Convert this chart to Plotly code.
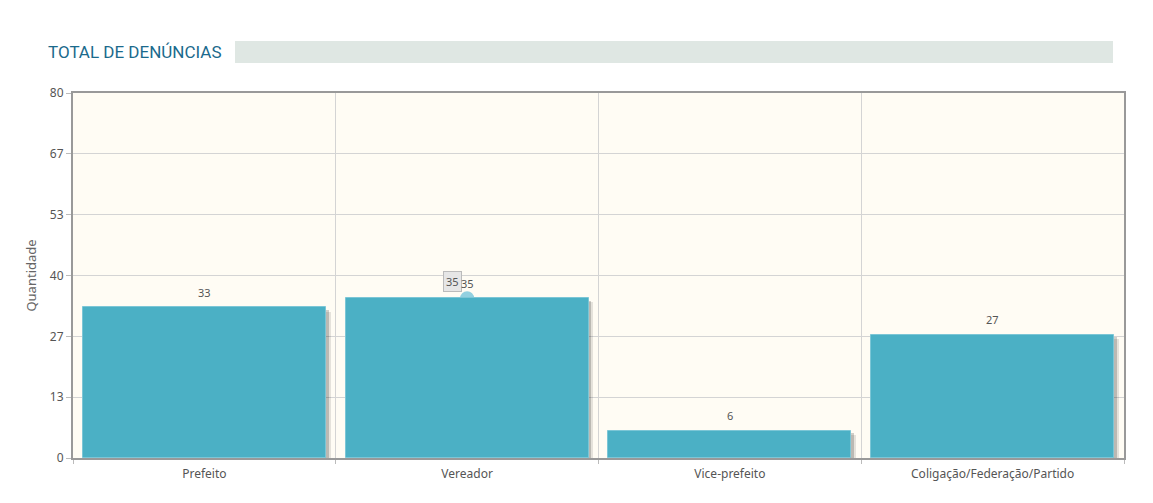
import plotly.graph_objects as go

categories = ["Prefeito", "Vereador", "Vice-prefeito", "Coligação/Federação/Partido"]
values = [33, 35, 6, 27]
tick_vals = [0, 13.33, 26.67, 40, 53.33, 66.67, 80]
tick_text = ["0", "13", "27", "40", "53", "67", "80"]

W, H = 1153, 503
L, T, PW, PH = 65, 85, 1051, 365
R = W - L - PW
B = H - T - PH

BAR_W = 0.924
fig = go.Figure()

# soft shadow (two layers)
for off, dy, col in [(0.018, 0.9, "rgba(0,0,0,0.10)"), (0.011, 0.5, "rgba(0,0,0,0.18)")]:
    fig.add_trace(go.Bar(
        x=categories, y=[v - dy for v in values], width=BAR_W, offset=-BAR_W / 2 + off,
        marker=dict(color=col, line=dict(width=0)),
        hoverinfo="skip", showlegend=False,
    ))
fig.add_trace(go.Bar(
    x=categories, y=values, width=BAR_W, offset=-BAR_W / 2,
    marker=dict(color="#4BB0C5", line=dict(color="#7cc6d6", width=1)),
    showlegend=False,
))

annotations = [
    dict(text="TOTAL DE DENÚNCIAS", xref="paper", yref="paper", x=(46 - 8 - L) / PW, y=(T + PH - (52 - 8)) / PH,
         xanchor="left", yanchor="middle", showarrow=False,
         font=dict(family="Roboto", size=17, color="#1B6A8C")),
    dict(text="35", x=categories[1], y=values[1], xref="x", yref="y", xshift=-15, yshift=17,
         showarrow=False, bgcolor="#e6e6e6", bordercolor="#bbb", borderwidth=1, borderpad=2,
         font=dict(family="Noto Sans", size=11, color="#555")),
]
for c, v in zip(categories, values):
    annotations.append(dict(text=str(v), x=c, y=v, xref="x", yref="y", yshift=15, showarrow=False,
                            xanchor="center", yanchor="middle",
                            font=dict(family="Noto Sans", size=11, color="#555")))

fig.update_layout(
    width=W, height=H,
    margin=dict(l=L, r=R, t=T, b=B),
    paper_bgcolor="white", plot_bgcolor="#FFFCF4",
    barmode="overlay", bargap=0,
    font=dict(family="Noto Sans", color="#555"),
    xaxis=dict(
        type="category", tickson="boundaries", showgrid=True, gridcolor="#d4d4d4", gridwidth=1,
        showline=True, linecolor="#999", linewidth=2, mirror=True,
        ticks="outside", ticklen=4, tickcolor="#bbb",
        tickfont=dict(family="Noto Sans", size=12, color="#555"), ticklabelstandoff=4,
        range=[-0.5, 3.5],
    ),
    yaxis=dict(
        range=[0, 80], tickvals=tick_vals, ticktext=tick_text,
        showgrid=True, gridcolor="#d4d4d4", gridwidth=1, zeroline=False,
        showline=True, linecolor="#999", linewidth=2, mirror=True,
        ticks="outside", ticklen=5, tickcolor="#bbb",
        tickfont=dict(family="Noto Sans", size=12, color="#555"),
        title=dict(text="Quantidade", font=dict(family="Noto Sans", size=13, color="#666"), standoff=10),
    ),
    shapes=[
        dict(type="rect", xref="paper", yref="paper", x0=(235 - 8 - L) / PW, x1=(1113 - 8 - L) / PW,
             y0=(T + PH - (63 - 8)) / PH, y1=(T + PH - (41 - 8)) / PH,
             fillcolor="#DFE7E3", line=dict(width=0), layer="below"),
        dict(type="circle", xref="x", yref="y", xsizemode="pixel", ysizemode="pixel",
             xanchor=1, yanchor=values[1], x0=-7, x1=7, y0=-7, y1=7,
             fillcolor="rgba(140,205,222,0.95)", line=dict(width=0), layer="below"),
    ],
    annotations=annotations,
)

fig.write_html("out.html")
